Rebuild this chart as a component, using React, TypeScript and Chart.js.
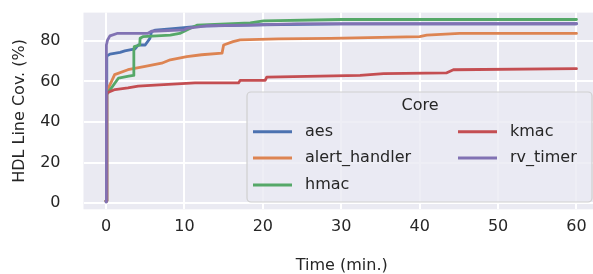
import React, { useEffect, useRef } from "react";
import { Chart, registerables } from "chart.js";

Chart.register(...registerables);

const seriesNames = ["aes", "alert_handler", "hmac", "kmac", "rv_timer"];
const seriesColors = ["#4C72B0", "#DD8452", "#55A868", "#C44E52", "#8172B3"];

const aesT = [0, 0.1, 0.5, 1.8, 2.4, 3.7, 4.1, 5.0, 5.6, 5.8, 6.3, 8.9, 12, 20, 30, 60];
const aesY = [1, 72.5, 73.5, 74.4, 75.1, 76.1, 78, 78, 81.3, 84.5, 85.4, 86.2, 87.3, 88, 88.4, 88.5];

const alertT = [0, 0.1, 1.1, 2.8, 5.0, 7.1, 8.2, 10.3, 12.2, 14.8, 15.0, 16.2, 17.1, 22, 28.6, 40, 40.9, 45.1, 60];
const alertY = [1, 55, 63.4, 65.8, 67.4, 69, 70.7, 72.3, 73.2, 74, 78, 79.7, 80.5, 81, 81.3, 82.1, 82.9, 83.7, 83.7];

const hmacT = [0, 0.1, 1.6, 2.9, 3.5, 3.55, 3.6, 4.3, 4.35, 4.7, 8.2, 9.4, 10.7, 11.6, 18.4, 20.1, 30.1, 60];
const hmacY = [1, 53.6, 61.7, 62.6, 63, 75, 77.2, 78, 81.3, 82.1, 82.9, 83.7, 86.2, 87.8, 88.9, 89.9, 90.6, 90.6];

const kmacT = [0, 0.1, 0.15, 1.15, 2.8, 4.1, 6.25, 11.35, 16.9, 17.1, 20.3, 20.5, 32.4, 35.4, 43.4, 44.3, 60];
const kmacY = [1, 53.6, 54.4, 56, 56.8, 57.7, 58.2, 59.3, 59.3, 60.5, 60.5, 62.1, 63, 63.9, 64.2, 65.8, 66.3];

const rvT = [0, 0.05, 0.2, 0.5, 1.4, 5.3, 5.8, 10, 10.3, 12.8, 18, 24.3, 60];
const rvY = [0.5, 78, 80.5, 82.5, 83.7, 83.7, 84.8, 85.5, 86.2, 87.5, 87.8, 88.4, 88.5];

const seriesT = [aesT, alertT, hmacT, kmacT, rvT];
const seriesY = [aesY, alertY, hmacY, kmacY, rvY];

const xTicks = [0, 10, 20, 30, 40, 50, 60];
const yTicks = [0, 20, 40, 60, 80];

const legendTitle = "Core";
const xTitle = "Time (min.)";
const yTitle = "HDL Line Cov. (%)";

const FONT = "'DejaVu Sans', sans-serif";
const TEXT = "#262626";
const BG = "#EAEAF2";

const bgPlugin = {
  id: "bgPlugin",
  beforeDraw(chart: any) {
    const { ctx, chartArea } = chart;
    ctx.save();
    ctx.fillStyle = BG;
    ctx.fillRect(chartArea.left, chartArea.top, chartArea.right - chartArea.left, chartArea.bottom - chartArea.top);
    ctx.restore();
  },
};

const legendPlugin = {
  id: "customLegend",
  afterDraw(chart: any) {
    const ctx = chart.ctx;
    ctx.save();
    const bx = 247, by = 92, bw = 345, bh = 110, r = 4;
    ctx.beginPath();
    ctx.moveTo(bx + r, by);
    ctx.lineTo(bx + bw - r, by);
    ctx.arcTo(bx + bw, by, bx + bw, by + r, r);
    ctx.lineTo(bx + bw, by + bh - r);
    ctx.arcTo(bx + bw, by + bh, bx + bw - r, by + bh, r);
    ctx.lineTo(bx + r, by + bh);
    ctx.arcTo(bx, by + bh, bx, by + bh - r, r);
    ctx.lineTo(bx, by + r);
    ctx.arcTo(bx, by, bx + r, by, r);
    ctx.closePath();
    ctx.fillStyle = "rgba(234,234,242,0.8)";
    ctx.fill();
    ctx.strokeStyle = "#CFCFCF";
    ctx.lineWidth = 1.2;
    ctx.stroke();

    ctx.fillStyle = TEXT;
    ctx.font = `16px ${FONT}`;
    ctx.textBaseline = "middle";
    ctx.textAlign = "center";
    ctx.fillText(legendTitle, 420, 106);

    const cols = [253, 458];
    const rows = [131.7, 158, 185];
    ctx.textAlign = "left";
    seriesNames.forEach((name, i) => {
      const col = i < 3 ? 0 : 1;
      const row = i < 3 ? i : i - 3;
      const x0 = cols[col];
      const y0 = rows[row];
      ctx.strokeStyle = seriesColors[i];
      ctx.lineWidth = 3;
      ctx.lineCap = "butt";
      ctx.beginPath();
      ctx.moveTo(x0, y0);
      ctx.lineTo(x0 + 39, y0);
      ctx.stroke();
      ctx.fillStyle = TEXT;
      ctx.fillText(name, x0 + 52, y0);
    });
    ctx.restore();
  },
};

export default function App() {
  const ref = useRef<HTMLCanvasElement>(null);
  useEffect(() => {
    if (!ref.current) return;
    const datasets = seriesNames.map((name, i) => ({
      label: name,
      data: seriesT[i].map((t, j) => ({ x: t, y: seriesY[i][j] })),
      borderColor: seriesColors[i],
      backgroundColor: seriesColors[i],
      borderWidth: 2.8,
      pointRadius: 0,
      tension: 0,
      borderJoinStyle: "round" as const,
      borderCapStyle: "round" as const,
      order: seriesNames.length - i,
    }));
    const chart = new Chart(ref.current, {
      type: "line",
      data: { datasets },
      options: {
        animation: false,
        responsive: false,
        devicePixelRatio: 1,
        layout: { padding: { top: 10.7, left: 0, right: 0, bottom: 0 } },
        plugins: { legend: { display: false }, tooltip: { enabled: false } },
        scales: {
          x: {
            type: "linear",
            min: -2.87,
            max: 63,
            afterFit: (s: any) => { s.height = 64.7; },
            afterBuildTicks: (s: any) => { s.ticks = xTicks.map((v) => ({ value: v })); },
            border: { display: false },
            grid: { color: "#FFFFFF", lineWidth: 2, drawTicks: true, tickLength: 8, tickColor: "rgba(0,0,0,0)" },
            ticks: { color: TEXT, font: { family: FONT, size: 16 }, padding: 0, maxRotation: 0 },
            title: { display: true, text: xTitle, color: TEXT, font: { family: FONT, size: 16, lineHeight: 1 }, padding: 0 },
          },
          y: {
            type: "linear",
            min: -3.1,
            max: 94,
            afterFit: (s: any) => { s.width = 83.5; },
            afterBuildTicks: (s: any) => { s.ticks = yTicks.map((v) => ({ value: v })); },
            border: { display: false },
            grid: { color: "#FFFFFF", lineWidth: 2, drawTicks: true, tickLength: 20, tickColor: "rgba(0,0,0,0)" },
            ticks: { color: TEXT, font: { family: FONT, size: 16 }, padding: 3 },
            title: { display: true, text: yTitle, color: TEXT, font: { family: FONT, size: 16, lineHeight: 1 }, padding: { top: 12, bottom: 0 } },
          },
        },
      },
      plugins: [bgPlugin, legendPlugin],
    });
    return () => chart.destroy();
  }, []);
  return (
    <div style={{ position: "fixed", left: 0, top: 0, width: 593, height: 274, overflow: "hidden", background: "#fff" }}>
      <canvas ref={ref} width={600} height={274} style={{ width: 600, height: 274, display: "block" }} />
    </div>
  );
}
